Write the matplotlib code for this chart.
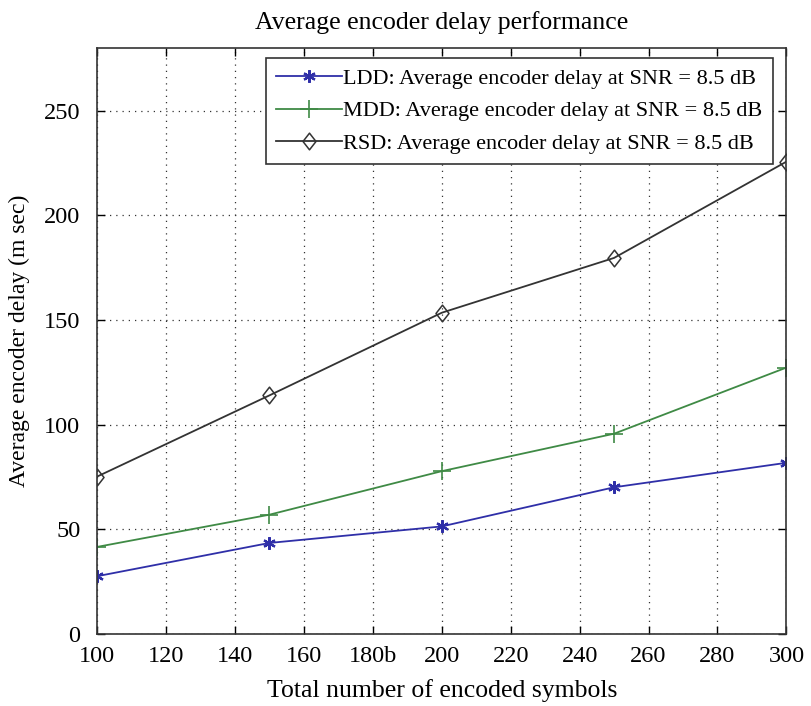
import matplotlib
matplotlib.use("Agg")
import matplotlib.pyplot as plt
from matplotlib.path import Path

plt.rcParams["font.family"] = ["Liberation Serif", "DejaVu Serif"]

symbols = [100, 150, 200, 250, 300]
ldd = [27.6, 43.5, 51.4, 70.1, 81.8]
mdd = [41.6, 57.0, 77.8, 95.7, 127.3]
rsd = [75.2, 114.0, 153.5, 179.7, 225.7]

xticks = [100, 120, 140, 160, 180, 200, 220, 240, 260, 280, 300]
xtick_labels = ["100", "120", "140", "160", "180b", "200", "220", "240", "260", "280", "300"]
yticks = [0, 50, 100, 150, 200, 250]

# matlab-like diamond, a bit taller than wide
diamond = Path([(0, 1), (0.78, 0), (0, -1), (-0.78, 0), (0, 1)], closed=True)

fig = plt.figure(figsize=(8.12, 7.06), dpi=100)
ax = fig.add_axes([0.1195, 0.102, 0.849, 0.830])

ax.plot(symbols, ldd, color="#2f2fa8", marker=(6, 2, 0), markersize=9, markeredgewidth=1.6,
        linewidth=1.3, label="LDD: Average encoder delay at SNR = 8.5 dB")
ax.plot(symbols, mdd, color="#3f8a45", marker="+", markersize=13, markeredgewidth=1.2,
        linewidth=1.3, label="MDD: Average encoder delay at SNR = 8.5 dB")
ax.plot(symbols, rsd, color="#333333", marker=diamond, markersize=12, markerfacecolor="none",
        markeredgewidth=1.1, linewidth=1.3, label="RSD: Average encoder delay at SNR = 8.5 dB")

ax.set_xlim(100, 300)
ax.set_ylim(0, 280)
ax.set_xticks(xticks)
ax.set_xticklabels(xtick_labels)
ax.set_yticks(yticks)
ax.tick_params(direction="in", top=True, right=True, labelsize=17.5, length=6, width=1)
ax.tick_params(axis="x", pad=9)
ax.tick_params(axis="y", pad=12)
ax.grid(True, color="#333333", linestyle=(0, (1, 4)), linewidth=0.9)
for s in ax.spines.values():
    s.set_linewidth(1.2)
    s.set_color("#333333")

ax.set_title("Average encoder delay performance", fontsize=18.5, pad=14)
ax.set_xlabel("Total number of encoded symbols", fontsize=18.5, labelpad=8)
ax.set_ylabel("Average encoder delay (m sec)", fontsize=17, labelpad=10)

leg = ax.legend(loc="upper right", bbox_to_anchor=(0.980, 0.983), fontsize=16,
                fancybox=False, framealpha=1, edgecolor="#333333",
                handlelength=3.0, borderpad=0.45, labelspacing=0.55, handletextpad=0.05,
                borderaxespad=0)
leg.get_frame().set_linewidth(1.2)

fig.savefig("out.png", dpi=100)
